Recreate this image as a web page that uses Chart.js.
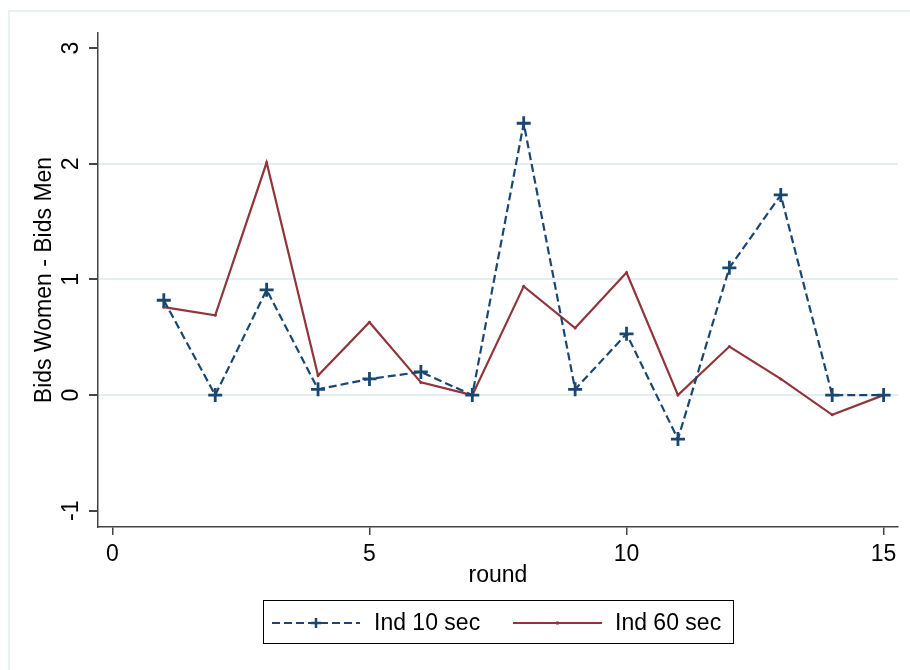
<!DOCTYPE html>
<html>
<head>
<meta charset="utf-8">
<script src="https://cdn.jsdelivr.net/npm/chart.js@4"></script>
<style>
    html, body { margin: 0; padding: 0; background: #fff; }
    #wrap { width: 910px; height: 670px; position: relative; }
</style>
</head>
<body>
<div id="wrap"><canvas id="chart" width="910" height="670"></canvas></div>
<script>
// --- DATA ---
const rounds = [1, 2, 3, 4, 5, 6, 7, 8, 9, 10, 11, 12, 13, 14, 15];
const ind10 = [0.82, 0, 0.91, 0.05, 0.14, 0.2, 0, 2.35, 0.05, 0.53, -0.38, 1.1, 1.73, 0, 0];
const ind60 = [0.76, 0.69, 2.01, 0.17, 0.63, 0.11, 0, 0.94, 0.58, 1.06, 0, 0.42, 0.14, -0.17, 0];
const xTicks = [0, 5, 10, 15];
const yTicks = [-1, 0, 1, 2, 3];
const gridAt = [0, 1, 2];
const seriesNames = ['Ind 10 sec', 'Ind 60 sec'];

const BLUE = '#1a476f';
const RED = '#90353b';
const AXIS = '#444444';
const GRID = '#e3eef1';
const FONT = '23px "Liberation Sans", Arial, sans-serif';

const toPoints = (ys) => rounds.map((r, i) => ({ x: r, y: ys[i] }));

// frame, rotated y labels, axis titles and legend
const stataDecor = {
    id: 'stataDecor',
    beforeDraw(chart) {
        const ctx = chart.ctx;
        ctx.save();
        ctx.strokeStyle = '#e8f0f2';
        ctx.lineWidth = 2;
        ctx.beginPath();
        ctx.moveTo(9, 670);
        ctx.lineTo(9, 11);
        ctx.lineTo(910, 11);
        ctx.stroke();
        ctx.restore();
    },
    afterDraw(chart) {
        const ctx = chart.ctx;
        const xs = chart.scales.x;
        const ys = chart.scales.y;
        const area = chart.chartArea;
        ctx.save();
        ctx.fillStyle = '#000';
        ctx.font = FONT;
        ctx.textAlign = 'center';
        ctx.textBaseline = 'middle';

        // y tick labels (rotated like Stata)
        yTicks.forEach((v) => {
            const py = ys.getPixelForValue(v);
            ctx.save();
            ctx.translate(72, py);
            ctx.rotate(-Math.PI / 2);
            ctx.fillText(String(v), 0, 0);
            ctx.restore();
        });

        // y title
        ctx.save();
        ctx.translate(45, (area.top + area.bottom) / 2);
        ctx.rotate(-Math.PI / 2);
        ctx.fillText('Bids Women - Bids Men', 0, 0);
        ctx.restore();

        // x tick labels
        xTicks.forEach((v) => {
            ctx.fillText(String(v), xs.getPixelForValue(v), 555);
        });
        ctx.fillText('round', (area.left + area.right) / 2, 576);

        // legend
        ctx.strokeStyle = '#000';
        ctx.lineWidth = 1;
        ctx.strokeRect(263.5, 600.5, 470, 43);
        const ly = 623;
        const items = [
            { x0: 272, x1: 360, tx: 374, ds: chart.data.datasets[0] },
            { x0: 513, x1: 602, tx: 615, ds: chart.data.datasets[1] },
        ];
        items.forEach((it) => {
            ctx.strokeStyle = it.ds.borderColor;
            ctx.lineWidth = 2;
            ctx.setLineDash(it.ds.borderDash || []);
            ctx.beginPath();
            ctx.moveTo(it.x0, ly);
            ctx.lineTo(it.x1, ly);
            ctx.stroke();
            ctx.setLineDash([]);
            const mx = (it.x0 + it.x1) / 2;
            if (it.ds.pointStyle === 'cross') {
                ctx.lineWidth = 2.5;
                ctx.beginPath();
                ctx.moveTo(mx - 5, ly);
                ctx.lineTo(mx + 5, ly);
                ctx.moveTo(mx, ly - 5);
                ctx.lineTo(mx, ly + 5);
                ctx.stroke();
            } else {
                ctx.fillStyle = it.ds.borderColor;
                ctx.fillRect(mx - 1.5, ly - 1.5, 3, 3);
            }
            ctx.fillStyle = '#000';
            ctx.textAlign = 'left';
            ctx.fillText(it.ds.label, it.tx, ly + 1);
        });
        ctx.restore();
    },
};

new Chart(document.getElementById('chart'), {
    type: 'line',
    data: {
        datasets: [
            {
                label: seriesNames[0],
                data: toPoints(ind10),
                borderColor: BLUE,
                backgroundColor: BLUE,
                borderWidth: 2.2,
                borderDash: [8, 4],
                pointStyle: 'cross',
                pointRadius: 7,
                pointBorderWidth: 2.8,
                pointBorderColor: BLUE,
                tension: 0,
                fill: false,
            },
            {
                label: seriesNames[1],
                data: toPoints(ind60),
                borderColor: RED,
                backgroundColor: RED,
                borderWidth: 2.2,
                pointStyle: 'circle',
                pointRadius: 1.5,
                pointBorderWidth: 0,
                tension: 0,
                fill: false,
            },
        ],
    },
    options: {
        responsive: false,
        animation: false,
        events: [],
        clip: false,
        layout: { padding: { left: 0, top: 33, right: 12, bottom: 0 } },
        plugins: {
            legend: { display: false },
            tooltip: { enabled: false },
        },
        scales: {
            x: {
                type: 'linear',
                min: -0.28,
                max: 15.28,
                afterBuildTicks: (scale) => {
                    scale.ticks = xTicks.map((v) => ({ value: v }));
                },
                afterFit: (scale) => {
                    scale.height = 143;
                },
                ticks: { display: false },
                grid: {
                    drawOnChartArea: false,
                    drawTicks: true,
                    tickLength: 8,
                    tickColor: AXIS,
                    lineWidth: 1.5,
                },
                border: { display: true, color: AXIS, width: 1.5 },
            },
            y: {
                min: -1.14,
                max: 3.13,
                afterBuildTicks: (scale) => {
                    scale.ticks = yTicks.map((v) => ({ value: v }));
                },
                afterFit: (scale) => {
                    scale.width = 98;
                },
                ticks: { display: false },
                grid: {
                    color: (c) => (c.tick && gridAt.includes(c.tick.value) ? GRID : 'rgba(0,0,0,0)'),
                    lineWidth: 2,
                    drawTicks: true,
                    tickLength: 9,
                    tickColor: AXIS,
                },
                border: { display: true, color: AXIS, width: 1.5 },
            },
        },
    },
    plugins: [stataDecor],
});
</script>
</body>
</html>
